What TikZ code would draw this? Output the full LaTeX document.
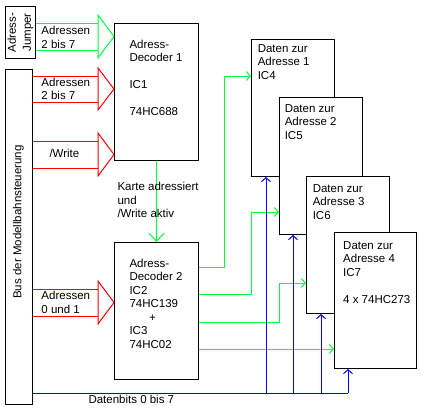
\documentclass[tikz,border=0pt]{standalone}
\usepackage{fontspec}
\setmainfont{Liberation Sans}
\usepackage{xcolor}
\definecolor{selgreen}{RGB}{0,255,64}
\usetikzlibrary{arrows.meta}
\usetikzlibrary{calc}

% fat arrow: colour, source node, target node, upper y, lower y
\newcommand{\fatarrow}[5]{%
  \draw[#1] (#2.east |- 0,#4) -- (98,#4);
  \draw[#1] (#2.east |- 0,#5) -- (98,#5);
  \draw[#1] (98,#4-8) -- (#3.west |- 0,{(#4+#5)/2}) -- (98,#5+8) -- cycle;}

\begin{document}
\begin{tikzpicture}[x=1pt, y=-1pt, line width=1pt,
    chip/.style={draw, fill=white, anchor=north west, inner sep=0pt},
    lbl/.style={anchor=north west, inner sep=0pt, align=left,
      font=\fontsize{11.5}{13.5}\selectfont},
    sig/.style={-{Straight Barb[length=4pt, width=9pt, line width=1pt]}},
    sigbig/.style={-{Straight Barb[length=8pt, width=15pt, line width=1pt]}}]

      \useasboundingbox (0,0) rectangle (424,410);

      % boxes
      \node[chip, minimum width=30pt, minimum height=52pt] (jumper) at (5,6) {};
      \node[chip, minimum width=27pt, minimum height=335pt] (bus) at (5,69) {};
      \node[chip, minimum width=84pt, minimum height=137pt] (dec1) at (114,23) {};
      \node[chip, minimum width=84pt, minimum height=137pt] (dec2) at (114,242) {};
      \node[chip, minimum width=83pt, minimum height=137pt] (ic4) at (251,39) {};
      \node[chip, minimum width=83pt, minimum height=137pt] (ic5) at (279,97) {};
      \node[chip, minimum width=83pt, minimum height=137pt] (ic6) at (306,176) {};
      \node[chip, minimum width=82pt, minimum height=136pt] (ic7) at (334,232) {};

      \node[rotate=90, align=center, inner sep=0pt,
        font=\fontsize{11.5}{15}\selectfont] at (jumper.center) {Adress-\\Jumper};
      \node[rotate=90, inner sep=0pt, font=\fontsize{11.5}{13.5}\selectfont]
        at (18.5,222) {Bus der Modellbahnsteuerung};

      % inputs
      \fatarrow{selgreen}{jumper}{dec1}{23}{50}
      \fatarrow{red}{bus}{dec1}{76}{102}
      \fatarrow{red}{bus}{dec1}{141}{168}
      \fatarrow{red}{bus}{dec2}{289}{316}

      \node[lbl] at (41,25.7) {Adressen\\2 bis 7};
      \node[lbl] at (41,77.3) {Adressen\\2 bis 7};
      \node[lbl] at (49,149) {/Write};
      \node[lbl] at (41,291) {Adressen\\0 und 1};

      \node[lbl] at (129,39.3) {Adress-\\Decoder 1\\[13.5pt]IC1\\[13.5pt]74HC688};
      \node[lbl] at (129,258.3) {Adress-\\Decoder 2\\IC2\\74HC139\\\hspace*{19.5pt}+\\IC3\\74HC02};

      \draw[selgreen, sigbig] (dec1) -- (dec2);
      \node[lbl] at (117,181.7) {Karte adressiert\\und\\/Write aktiv};

      % select lines
      \draw[selgreen, sig] (dec2.east |- 0,267) -| (224,76) -- (ic4.west |- 0,76);
      \draw[selgreen, sig] (dec2.east |- 0,294) -| (251,212) -- (ic5.west |- 0,212);
      \draw[selgreen, sig] (dec2.east |- 0,322) -| (279,283) -- (ic6.west |- 0,283);
      \draw[selgreen, sig] (dec2.east |- 0,349) -- (ic7.west |- 0,349);

      \node[lbl] at (257.3,44) {Daten zur\\Adresse 1\\IC4};
      \node[lbl] at (284.3,104) {Daten zur\\Adresse 2\\IC5};
      \node[lbl] at (312.3,184) {Daten zur\\Adresse 3\\IC6};
      \node[lbl] at (342.7,241) {Daten zur\\Adresse 4\\IC7\\[13.5pt]4 x 74HC273};

      % data bus
      \coordinate (dend) at (348,393);
      \draw[blue] (bus.east |- dend) -- (dend);
      \foreach \c/\x in {ic4/266, ic5/293, ic6/321, ic7/348}
        \draw[blue, sig] (\x,393) -- (\c.south -| \x,0);
      \node[lbl] at (88,395) {Datenbits 0 bis 7};

    \end{tikzpicture}
\end{document}
